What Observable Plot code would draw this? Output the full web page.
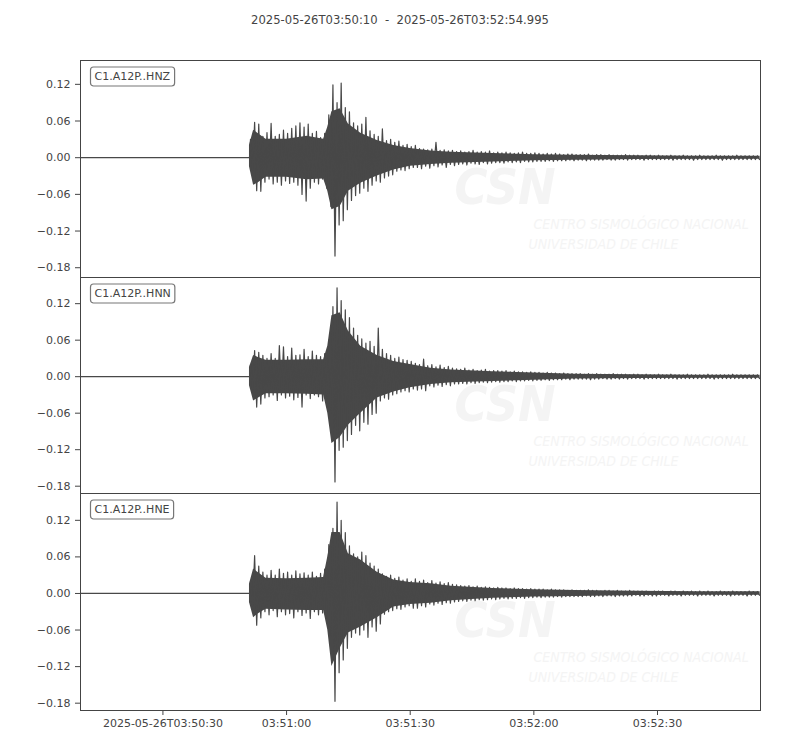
<!DOCTYPE html>
<html>
<head>
<meta charset="utf-8">
<script src="https://cdn.jsdelivr.net/npm/d3@7"></script>
<script src="https://cdn.jsdelivr.net/npm/@observablehq/plot@0.6"></script>
<style>
  html, body { margin: 0; padding: 0; background: #fff; }
  #title { width: 800px; height: 40px; line-height: 40px; text-align: center; white-space: pre;
           font-family: "DejaVu Sans", sans-serif; font-size: 11.6px; color: #444; }
  #chart { position: relative; width: 800px; height: 710px; }
  #chart > div { position: absolute; left: 0; }
  #chart svg { display: block; overflow: visible; }
</style>
</head>
<body>
<div id="title"></div>
<div id="chart"></div>
<script>
// ---------------- data ----------------
const recordStart = "2025-05-26T03:50:10Z";
const recordEnd = "2025-05-26T03:52:54.995Z";
const titleText = "2025-05-26T03:50:10  -  2025-05-26T03:52:54.995";
const channels = ["C1.A12P..HNZ", "C1.A12P..HNN", "C1.A12P..HNE"];
const onsetSec = 41;   // first envelope bin (seconds after record start)
const binSec = 1;      // envelope bin width (seconds)

// per-second peak envelope (max / min), from 03:50:51 onward
const hnzUpper = [
  0.030,0.058,0.055,0.035,0.041,0.056,0.035,0.038,0.045,0.040,
  0.048,0.052,0.057,0.050,0.055,0.040,0.043,0.033,0.040,0.070,
  0.119,0.090,0.122,0.082,0.075,0.057,0.052,0.055,0.066,0.044,
  0.038,0.035,0.047,0.028,0.030,0.025,0.027,0.020,0.022,0.018,
  0.020,0.015,0.014,0.013,0.014,0.025,0.012,0.013,0.011,0.012,
  0.010,0.011,0.009,0.010,0.012,0.009,0.010,0.009,0.011,0.008,
  0.009,0.008,0.009,0.008,0.007,0.008,0.009,0.007,0.007,0.008,
  0.007,0.006,0.007,0.006,0.007,0.006,0.005,0.006,0.006,0.005,
  0.005,0.005,0.006,0.004,0.005,0.005,0.004,0.005,0.004,0.004,
  0.004,0.005,0.004,0.004,0.004,0.003,0.004,0.004,0.003,0.004,
  0.003,0.003,0.004,0.003,0.003,0.004,0.003,0.003,0.003,0.004,
  0.003,0.003,0.003,0.004,0.003,0.003,0.003,0.003,0.004,0.003,
  0.003,0.003,0.003,0.003
];
const hnzLower = [
  -0.020,-0.054,-0.055,-0.040,-0.035,-0.043,-0.040,-0.045,-0.038,-0.042,
  -0.040,-0.045,-0.060,-0.071,-0.050,-0.040,-0.043,-0.035,-0.050,-0.080,
  -0.161,-0.110,-0.103,-0.085,-0.070,-0.062,-0.058,-0.050,-0.055,-0.045,
  -0.038,-0.040,-0.033,-0.030,-0.028,-0.022,-0.020,-0.021,-0.018,-0.016,
  -0.016,-0.018,-0.014,-0.017,-0.013,-0.015,-0.012,-0.016,-0.011,-0.013,
  -0.011,-0.010,-0.012,-0.009,-0.010,-0.011,-0.008,-0.010,-0.009,-0.008,
  -0.008,-0.009,-0.007,-0.008,-0.007,-0.008,-0.006,-0.007,-0.007,-0.006,
  -0.006,-0.006,-0.005,-0.006,-0.005,-0.005,-0.005,-0.004,-0.005,-0.004,
  -0.004,-0.005,-0.004,-0.004,-0.004,-0.004,-0.003,-0.004,-0.004,-0.003,
  -0.003,-0.004,-0.003,-0.003,-0.003,-0.004,-0.003,-0.003,-0.003,-0.003,
  -0.003,-0.003,-0.004,-0.003,-0.003,-0.003,-0.003,-0.004,-0.003,-0.003,
  -0.003,-0.003,-0.003,-0.003,-0.004,-0.003,-0.003,-0.003,-0.003,-0.003,
  -0.003,-0.003,-0.003,-0.003
];
const hnnUpper = [
  0.020,0.043,0.040,0.035,0.030,0.038,0.030,0.051,0.049,0.033,
  0.047,0.035,0.036,0.045,0.033,0.042,0.035,0.033,0.038,0.060,
  0.115,0.146,0.125,0.110,0.097,0.080,0.068,0.062,0.055,0.058,
  0.050,0.080,0.045,0.038,0.035,0.030,0.032,0.028,0.027,0.025,
  0.022,0.020,0.029,0.018,0.020,0.016,0.019,0.015,0.017,0.014,
  0.013,0.012,0.014,0.011,0.012,0.010,0.011,0.012,0.009,0.010,
  0.010,0.009,0.010,0.008,0.009,0.008,0.008,0.007,0.008,0.007,
  0.007,0.006,0.007,0.006,0.006,0.005,0.006,0.005,0.005,0.005,
  0.005,0.004,0.005,0.004,0.005,0.004,0.004,0.004,0.005,0.004,
  0.004,0.004,0.003,0.004,0.004,0.003,0.004,0.003,0.003,0.004,
  0.003,0.003,0.004,0.003,0.003,0.003,0.004,0.003,0.003,0.003,
  0.003,0.004,0.003,0.003,0.003,0.003,0.003,0.004,0.003,0.003,
  0.003,0.003,0.003,0.003
];
const hnnLower = [
  -0.020,-0.050,-0.045,-0.035,-0.033,-0.030,-0.039,-0.030,-0.035,-0.032,
  -0.038,-0.034,-0.050,-0.030,-0.036,-0.030,-0.033,-0.040,-0.035,-0.060,
  -0.173,-0.121,-0.116,-0.105,-0.095,-0.080,-0.089,-0.075,-0.078,-0.062,
  -0.060,-0.040,-0.035,-0.037,-0.030,-0.028,-0.025,-0.023,-0.025,-0.020,
  -0.022,-0.020,-0.023,-0.015,-0.017,-0.014,-0.016,-0.013,-0.015,-0.012,
  -0.012,-0.011,-0.012,-0.010,-0.011,-0.010,-0.009,-0.010,-0.009,-0.008,
  -0.009,-0.008,-0.008,-0.007,-0.008,-0.007,-0.007,-0.006,-0.007,-0.006,
  -0.006,-0.005,-0.006,-0.005,-0.005,-0.005,-0.004,-0.005,-0.004,-0.004,
  -0.004,-0.004,-0.005,-0.004,-0.004,-0.003,-0.004,-0.004,-0.003,-0.004,
  -0.003,-0.004,-0.003,-0.003,-0.003,-0.004,-0.003,-0.003,-0.003,-0.003,
  -0.003,-0.003,-0.003,-0.004,-0.003,-0.003,-0.003,-0.003,-0.003,-0.003,
  -0.003,-0.003,-0.004,-0.003,-0.003,-0.003,-0.003,-0.003,-0.003,-0.003,
  -0.003,-0.003,-0.003,-0.003
];
const hneUpper = [
  0.020,0.062,0.045,0.035,0.030,0.038,0.030,0.040,0.033,0.035,
  0.030,0.037,0.032,0.034,0.030,0.035,0.028,0.033,0.040,0.080,
  0.107,0.150,0.120,0.100,0.078,0.065,0.060,0.068,0.062,0.050,
  0.045,0.040,0.032,0.028,0.030,0.025,0.027,0.022,0.024,0.020,
  0.024,0.020,0.022,0.018,0.021,0.017,0.019,0.016,0.018,0.015,
  0.014,0.013,0.012,0.013,0.011,0.012,0.010,0.011,0.010,0.009,
  0.010,0.009,0.009,0.008,0.009,0.008,0.008,0.007,0.008,0.007,
  0.007,0.007,0.006,0.007,0.006,0.006,0.006,0.005,0.006,0.005,
  0.005,0.005,0.006,0.005,0.005,0.004,0.005,0.005,0.004,0.005,
  0.004,0.004,0.005,0.004,0.004,0.004,0.004,0.003,0.004,0.004,
  0.004,0.003,0.004,0.004,0.003,0.004,0.003,0.004,0.003,0.004,
  0.003,0.004,0.003,0.003,0.004,0.003,0.003,0.004,0.003,0.003,
  0.003,0.004,0.003,0.003
];
const hneLower = [
  -0.020,-0.052,-0.040,-0.030,-0.035,-0.028,-0.038,-0.030,-0.035,-0.033,
  -0.040,-0.030,-0.036,-0.032,-0.041,-0.030,-0.035,-0.032,-0.040,-0.070,
  -0.177,-0.130,-0.109,-0.090,-0.072,-0.065,-0.068,-0.060,-0.072,-0.055,
  -0.062,-0.050,-0.034,-0.030,-0.028,-0.025,-0.026,-0.022,-0.020,-0.024,
  -0.024,-0.020,-0.022,-0.017,-0.019,-0.016,-0.018,-0.015,-0.016,-0.014,
  -0.013,-0.012,-0.013,-0.011,-0.012,-0.010,-0.011,-0.010,-0.009,-0.010,
  -0.009,-0.008,-0.009,-0.008,-0.008,-0.007,-0.008,-0.007,-0.007,-0.006,
  -0.007,-0.006,-0.006,-0.006,-0.005,-0.006,-0.005,-0.005,-0.005,-0.005,
  -0.005,-0.004,-0.005,-0.005,-0.004,-0.005,-0.004,-0.004,-0.005,-0.004,
  -0.004,-0.004,-0.004,-0.003,-0.004,-0.004,-0.003,-0.004,-0.004,-0.003,
  -0.003,-0.004,-0.003,-0.003,-0.004,-0.003,-0.003,-0.003,-0.004,-0.003,
  -0.003,-0.003,-0.004,-0.003,-0.003,-0.003,-0.004,-0.003,-0.003,-0.003,
  -0.004,-0.003,-0.003,-0.003
];

// solid (dense) part of each trace, read at these times (seconds after start)
const bodyTimes = [41, 42, 43, 45, 50, 55, 59, 60, 61, 63, 65, 68, 72, 76, 80, 85, 90, 100, 110, 120, 135, 150, 164.9];
const hnzBodyUpper = [0.020, 0.045, 0.040, 0.030, 0.030, 0.035, 0.030, 0.050, 0.075, 0.080, 0.055, 0.040, 0.028, 0.020, 0.015, 0.011, 0.009, 0.007, 0.005, 0.004, 0.003, 0.0025, 0.0025];
const hnzBodyLower = [-0.015, -0.045, -0.042, -0.032, -0.032, -0.036, -0.035, -0.055, -0.085, -0.080, -0.055, -0.042, -0.030, -0.020, -0.014, -0.011, -0.009, -0.007, -0.005, -0.004, -0.003, -0.0025, -0.0025];
const hnnBodyUpper = [0.015, 0.035, 0.032, 0.027, 0.027, 0.028, 0.028, 0.050, 0.100, 0.105, 0.075, 0.050, 0.035, 0.025, 0.020, 0.014, 0.011, 0.008, 0.006, 0.004, 0.003, 0.0025, 0.0025];
const hnnBodyLower = [-0.015, -0.040, -0.036, -0.028, -0.028, -0.029, -0.030, -0.060, -0.110, -0.100, -0.080, -0.060, -0.035, -0.025, -0.018, -0.013, -0.010, -0.008, -0.006, -0.004, -0.003, -0.0025, -0.0025];
const hneBodyUpper = [0.015, 0.040, 0.035, 0.025, 0.024, 0.025, 0.026, 0.060, 0.100, 0.100, 0.065, 0.055, 0.035, 0.022, 0.018, 0.016, 0.012, 0.008, 0.006, 0.005, 0.0035, 0.003, 0.003];
const hneBodyLower = [-0.015, -0.040, -0.034, -0.026, -0.027, -0.028, -0.028, -0.060, -0.120, -0.090, -0.065, -0.055, -0.040, -0.022, -0.018, -0.016, -0.012, -0.008, -0.006, -0.005, -0.0035, -0.003, -0.003];

// per-panel y limits (equal span, each centred on its own trace)
const yDomains = [[-0.196, 0.159], [-0.192, 0.163], [-0.192, 0.164]];
const yTicks = [-0.18, -0.12, -0.06, 0.00, 0.06, 0.12];
const xTicks = ["2025-05-26T03:50:30Z", "2025-05-26T03:51:00Z", "2025-05-26T03:51:30Z", "2025-05-26T03:52:00Z", "2025-05-26T03:52:30Z"];
const xTickLabels = ["2025-05-26T03:50:30", "03:51:00", "03:51:30", "03:52:00", "03:52:30"];
const watermarkLogo = "CSN";
const watermarkLine1 = "CENTRO SISMOLÓGICO NACIONAL";
const watermarkLine2 = "UNIVERSIDAD DE CHILE";

// ---------------- build ----------------
document.getElementById("title").textContent = titleText;
const t0 = new Date(recordStart).getTime();
const at = s => new Date(t0 + s * 1000);
const labelMap = new Map(xTicks.map((d, i) => [+new Date(d), xTickLabels[i]]));
const ink = "#484848";
const wm = "#f4f4f4";
const wmFont = "DejaVu Sans Condensed, DejaVu Sans, sans-serif";

const envelopes = [
  [hnzUpper, hnzLower, hnzBodyUpper, hnzBodyLower],
  [hnnUpper, hnnLower, hnnBodyUpper, hnnBodyLower],
  [hneUpper, hneLower, hneBodyUpper, hneBodyLower]
];
// panel frame tops/heights in page pixels below the title (layout only)
const panelTops = [20, 237, 453];
const panelHeights = [217, 216, 217];

const container = document.getElementById("chart");
channels.forEach((ch, k) => {
  const [up, lo, bUp, bLo] = envelopes[k];
  const baseRows = [{t: new Date(t0), v: 0}, {t: at(onsetSec), v: 0}];
  const waveRows = [{t: at(onsetSec), v: 0}];
  up.forEach((u, i) => {
    const s = onsetSec + i * binSec;
    waveRows.push({t: at(s + binSec * 0.25), v: u});
    waveRows.push({t: at(s + binSec * 0.75), v: lo[i]});
  });
  const bodyRows = bodyTimes.map((s, i) => ({t: at(s), up: bUp[i], lo: bLo[i]}));
  const last = k === channels.length - 1;
  const mTop = k === 0 ? 20 : 1;
  const mBottom = last ? 40 : 1;
  const chart = Plot.plot({
    width: 800,
    height: panelHeights[k] + mTop + mBottom,
    marginLeft: 80,
    marginRight: 40,
    marginTop: mTop,
    marginBottom: mBottom,
    style: {fontFamily: "DejaVu Sans, sans-serif", fontSize: "11px", color: "#444", background: "transparent", overflow: "visible"},
    x: {type: "utc", domain: [new Date(recordStart), new Date(recordEnd)],
        ticks: xTicks.map(d => new Date(d)), tickFormat: d => labelMap.get(+d),
        tickSize: 5, tickPadding: 4, label: null, axis: last ? "bottom" : null},
    y: {domain: yDomains[k], ticks: yTicks, tickFormat: d3.format(".2f"), tickSize: 5, tickPadding: 5, label: null},
    marks: [
      Plot.text([watermarkLogo], {text: d => d, frameAnchor: "top-left", dx: 374, dy: 143,
        textAnchor: "start", lineAnchor: "bottom", fill: wm, fontSize: 50, fontWeight: "bold", fontStyle: "italic",
        fontFamily: wmFont}),
      Plot.text([watermarkLine1], {text: d => d, frameAnchor: "top-left", dx: 453, dy: 164,
        textAnchor: "start", lineAnchor: "middle", fill: wm, fontSize: 14, fontStyle: "italic", fontFamily: wmFont}),
      Plot.text([watermarkLine2], {text: d => d, frameAnchor: "top-left", dx: 448, dy: 184,
        textAnchor: "start", lineAnchor: "middle", fill: wm, fontSize: 14, fontStyle: "italic", fontFamily: wmFont}),
      Plot.line(baseRows, {x: "t", y: "v", stroke: ink, strokeWidth: 1.3}),
      Plot.areaY(bodyRows, {x: "t", y1: "lo", y2: "up", fill: ink}),
      Plot.line(waveRows, {x: "t", y: "v", stroke: ink, strokeWidth: 1.2}),
      Plot.frame({stroke: "#444"}),
      Plot.text([ch], {text: d => d, frameAnchor: "top-left", dx: 14, dy: 16,
        textAnchor: "start", lineAnchor: "middle", fill: "#444"})
    ]
  });
  const holder = document.createElement("div");
  holder.style.top = (panelTops[k] - mTop) + "px";
  holder.appendChild(chart);
  container.appendChild(holder);

  // rounded box behind the channel label
  d3.select(chart).selectAll("text").filter(function () { return this.textContent === ch; }).each(function () {
    const b = this.getBBox();
    const r = document.createElementNS("http://www.w3.org/2000/svg", "rect");
    r.setAttribute("x", b.x - 4);
    r.setAttribute("y", b.y - 3);
    r.setAttribute("width", b.width + 8);
    r.setAttribute("height", b.height + 6);
    r.setAttribute("rx", 3);
    r.setAttribute("fill", "#fff");
    r.setAttribute("stroke", "#777");
    r.setAttribute("stroke-width", 1.2);
    const tr = this.getAttribute("transform");
    if (tr) r.setAttribute("transform", tr);
    this.parentNode.insertBefore(r, this);
  });
});
</script>
</body>
</html>
